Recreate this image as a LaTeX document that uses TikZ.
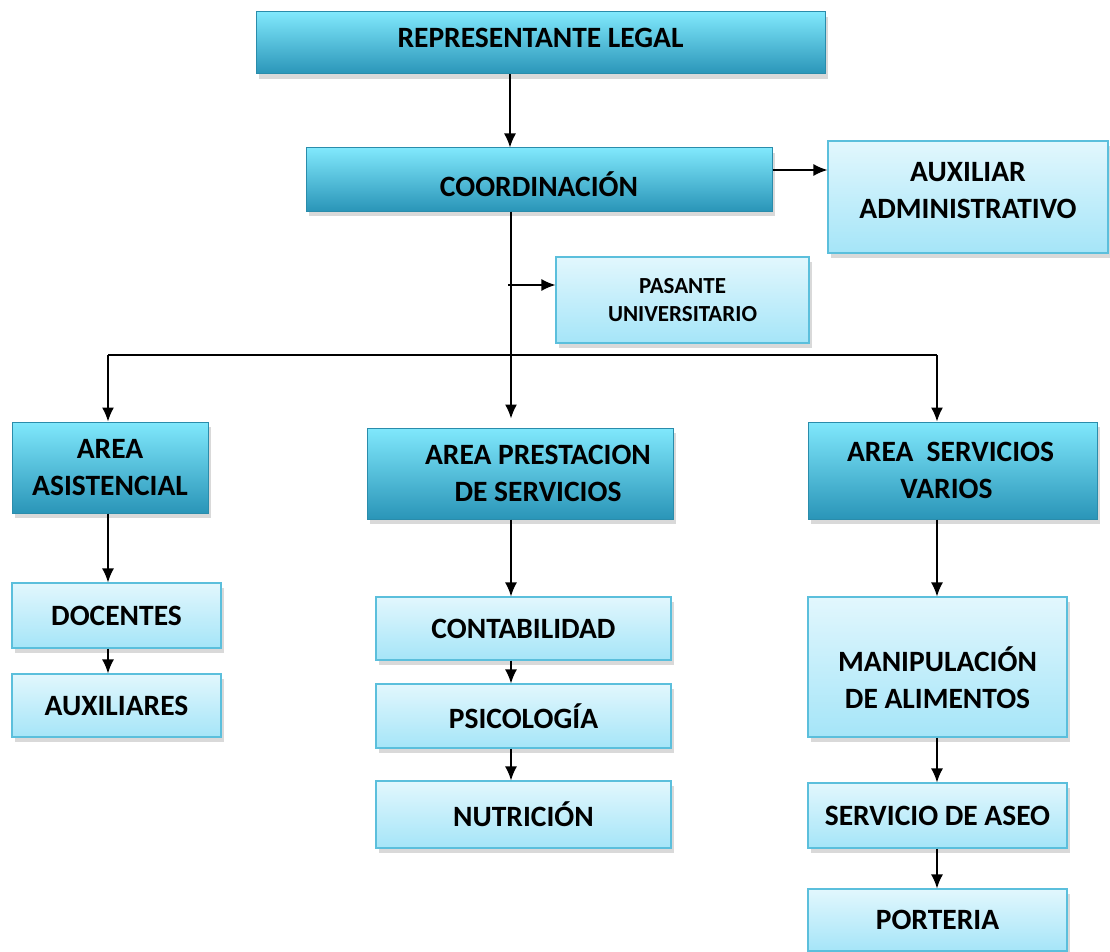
\documentclass[tikz,border=0pt]{standalone}
\usepackage{fontspec}
\setmainfont{Carlito}
\usetikzlibrary{shadows,arrows.meta,calc}
\definecolor{dkTop}{HTML}{80E8FC}
\definecolor{dkMid}{HTML}{3BB6D9}
\definecolor{dkBot}{HTML}{2A95B8}
\definecolor{dkEdge}{HTML}{2A8CAB}
\definecolor{ltTop}{HTML}{E2F7FD}
\definecolor{ltBot}{HTML}{A5E5F8}
\definecolor{ltEdge}{HTML}{5BBFDC}
\tikzset{
  boxtext/.style={align=center, inner sep=0pt, text=black,
    font=\bfseries\fontsize{29.5}{37}\selectfont},
  basebox/.style={boxtext,
    drop shadow={shadow xshift=3pt, shadow yshift=-5pt, opacity=0.3, fill=gray}},
  darkbox/.style={basebox, draw=dkEdge, line width=1pt,
    top color=dkTop, middle color=dkMid, bottom color=dkBot},
  lightbox/.style={basebox, draw=ltEdge, line width=1.2pt,
    top color=ltTop, bottom color=ltBot},
  conn/.style={line width=1.4pt, draw=black},
  arr/.style={conn, -{Latex[length=14pt,width=12pt]}}
}
\begin{document}
\begin{tikzpicture}[x=1pt,y=-1pt]
\useasboundingbox (0,0) rectangle (1110,952);
% boxes
\node[darkbox, minimum width=569pt, minimum height=62pt,
  label={[name=repT, boxtext, yshift=5pt]center:REPRESENTANTE LEGAL}] (rep) at (540.5,43) {};
\node[darkbox, minimum width=466pt, minimum height=63pt,
  label={[name=coordT, boxtext, yshift=-5pt]center:COORDINACIÓN}] (coord) at (539,179.5) {};
\node[lightbox, minimum width=280pt, minimum height=112pt,
  label={[name=auxT, boxtext, yshift=6pt]center:AUXILIAR\\ADMINISTRATIVO}] (aux) at (968,197) {};
\node[lightbox, minimum width=253pt, minimum height=86pt, font=\bfseries\fontsize{23}{28}\selectfont] (pas) at (682.5,300) {PASANTE\\UNIVERSITARIO};
\node[darkbox, minimum width=196pt, minimum height=91pt] (asis) at (110,467.5) {AREA\\ASISTENCIAL};
\node[darkbox, minimum width=306pt, minimum height=91pt] (prest) at (520,473.5) {\hspace*{36pt}AREA PRESTACION\\\hspace*{36pt}DE SERVICIOS};
\node[darkbox, minimum width=289pt, minimum height=97pt] (varios) at (952.5,470.5) {AREA\ \ SERVICIOS\hspace*{4pt}\\VARIOS\hspace*{12pt}};
\node[lightbox, minimum width=209pt, minimum height=65pt] (doc) at (116.5,615.5) {DOCENTES};
\node[lightbox, minimum width=209pt, minimum height=63pt] (auxl) at (116.5,705.5) {AUXILIARES};
\node[lightbox, minimum width=295pt, minimum height=63pt] (cont) at (523.5,628.5) {CONTABILIDAD};
\node[lightbox, minimum width=295pt, minimum height=64pt] (psi) at (523.5,716) {PSICOLOGÍA};
\node[lightbox, minimum width=295pt, minimum height=67pt] (nut) at (523.5,814.5) {NUTRICIÓN};
\node[lightbox, minimum width=259pt, minimum height=140pt,
  label={[name=manT, boxtext, yshift=-11pt]center:MANIPULACIÓN\\DE ALIMENTOS}] (man) at (937.5,667) {};
\node[lightbox, minimum width=259pt, minimum height=65pt] (aseo) at (937.5,815.5) {SERVICIO DE ASEO};
\node[lightbox, minimum width=259pt, minimum height=62pt] (port) at (937.5,920) {PORTERIA};
% helper coordinates
\coordinate (mx) at (510,0);
\coordinate (my) at (511,0);
\coordinate (ay) at (0,170);
\coordinate (py) at (508,285);
\coordinate (bl) at (108,355);
\coordinate (br) at (937,355);
% connectors
\draw[arr] (rep.south -| mx) -- (coord.north -| mx);
\draw[arr] (coord.east |- ay) -- (aux.west |- ay);
\draw[arr, shorten >=9pt] (coord.south -| my) -- (prest.north -| my);
\draw[arr] (py) -- (pas.west |- py);
\draw[conn] (bl) -- (br);
\draw[arr] (bl) -- (asis.north -| bl);
\draw[arr] (br) -- (varios.north -| br);
\draw[arr] (asis.south -| bl) -- (doc.north -| bl);
\draw[arr] (doc.south -| bl) -- (auxl.north -| bl);
\draw[arr] (prest.south -| my) -- (cont.north -| my);
\draw[arr] (cont.south -| my) -- (psi.north -| my);
\draw[arr] (psi.south -| my) -- (nut.north -| my);
\draw[arr] (varios.south -| br) -- (man.north -| br);
\draw[arr] (man.south -| br) -- (aseo.north -| br);
\draw[arr] (aseo.south -| br) -- (port.north -| br);
\end{tikzpicture}
\end{document}
